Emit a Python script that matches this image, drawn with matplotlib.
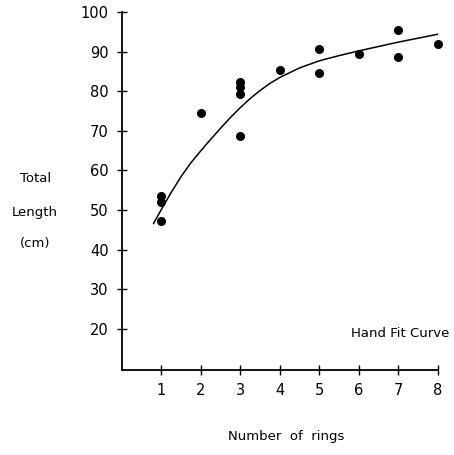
import matplotlib
matplotlib.use('Agg')
import matplotlib.pyplot as plt

# observed fish: number of rings vs total length (cm)
rings = [1, 1, 1, 2, 3, 3, 3, 3, 4, 5, 5, 6, 7, 7, 8]
length = [53.5, 52.0, 47.3, 74.4, 82.3, 81.0, 79.3, 68.6, 85.4, 90.6, 84.6, 89.5, 95.4, 88.7, 91.8]

# hand fit curve
curve_x = [0.8, 1.0, 1.25, 1.5, 1.75, 2.0, 2.25, 2.5, 2.75, 3.0, 3.25, 3.5, 3.75,
           4.0, 4.5, 5.0, 5.5, 6.0, 6.5, 7.0, 7.5, 8.0]
curve_y = [46.6, 50.2, 54.5, 58.5, 62.0, 65.0, 67.9, 70.7, 73.4, 75.9, 78.2, 80.2, 82.0,
           83.5, 85.9, 87.7, 89.0, 90.2, 91.3, 92.4, 93.4, 94.4]

x_ticks = [1, 2, 3, 4, 5, 6, 7, 8]
y_ticks = [20, 30, 40, 50, 60, 70, 80, 90, 100]


def main():
    fig = plt.figure(figsize=(4.54, 4.55), dpi=100)
    ax = fig.add_axes([0.2687, 0.1868, 0.696, 0.7868])

    ax.plot(curve_x, curve_y, color='black', linewidth=1.1)
    ax.plot(rings, length, 'o', color='black', markersize=5.5, clip_on=False)

    ax.set_xlim(0, 8)
    ax.set_ylim(9.6, 100)
    ax.set_xticks(x_ticks)
    ax.set_yticks(y_ticks)
    ax.spines['top'].set_visible(False)
    ax.spines['right'].set_visible(False)
    ax.spines['left'].set_linewidth(1.3)
    ax.spines['bottom'].set_linewidth(1.3)
    ax.tick_params(direction='inout', length=7, width=1.0, labelsize=10.5, pad=6)

    # axis titles, placed like the original
    ax.text(-0.275, 0.535, 'Total', transform=ax.transAxes, ha='center', va='center', fontsize=9.5)
    ax.text(-0.275, 0.44, 'Length', transform=ax.transAxes, ha='center', va='center', fontsize=9.5)
    ax.text(-0.275, 0.353, '(cm)', transform=ax.transAxes, ha='center', va='center', fontsize=9.5)
    fig.text(0.63, 0.04, 'Number  of  rings', ha='center', va='center', fontsize=9.5)
    ax.text(1.035, 0.103, 'Hand Fit Curve', transform=ax.transAxes, ha='right', va='center', fontsize=9.5)

    fig.savefig('out.png', dpi=100)


if __name__ == '__main__':
    main()
